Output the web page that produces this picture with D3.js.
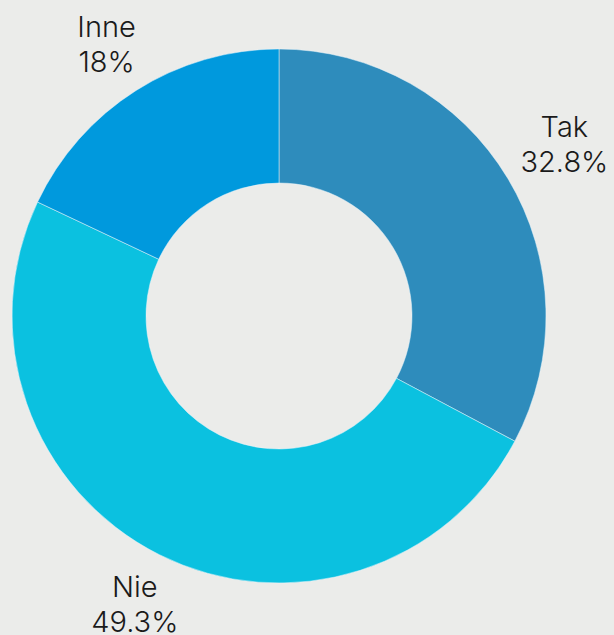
<!DOCTYPE html>
<html lang="pl">
<head>
  <meta charset="UTF-8">
  <script src="https://cdn.jsdelivr.net/npm/d3@7"></script>
  <style>
    body { margin: 0; background: #ebecea; }
    text { font-family: "Inter", "Lato", sans-serif; fill: #1a1a1a; }
  </style>
</head>
<body>
  <svg width="614" height="635"></svg>
  <script>
    var labels = ["Tak", "Nie", "Inne"];
    var values = [32.8, 49.3, 18];
    var valueLabels = ["32.8%", "49.3%", "18%"];
    var colors = ["#2e8cbc", "#0bc1e0", "#0099dd"];

    var svg = d3.select("svg");
    var cx = 279, cy = 316;
    var g = svg.append("g").attr("transform", "translate(" + cx + "," + cy + ")");

    // pie starting at top, clockwise, in data order
    var pie = d3.pie().sort(null).value(d => d);
    var pieData = pie(values);

    var arc = d3.arc().innerRadius(133).outerRadius(267);
    // labels on the right sit a bit further out
    var labelArcL = d3.arc().innerRadius(322).outerRadius(322);
    var labelArcR = d3.arc().innerRadius(333).outerRadius(333);
    function labelPos(d) {
      var mid = (d.startAngle + d.endAngle) / 2;
      return mid < Math.PI ? labelArcR.centroid(d) : labelArcL.centroid(d);
    }

    g.selectAll("path")
      .data(pieData)
      .enter()
      .append("path")
      .attr("d", arc)
      .attr("fill", (d, i) => colors[i])
      .attr("stroke", "#e8f4fa")
      .attr("stroke-width", 0.5);

    var lab = g.selectAll(".lab")
      .data(pieData)
      .enter()
      .append("text")
      .attr("class", "lab")
      .attr("text-anchor", "middle")
      .attr("font-size", 29)
      .attr("font-weight", 300)
      .attr("transform", d => "translate(" + labelPos(d) + ")");

    lab.append("tspan").attr("x", 0).attr("y", -7).text((d, i) => labels[i]);
    lab.append("tspan").attr("x", 0).attr("y", 28).text((d, i) => valueLabels[i]);
  </script>
</body>
</html>
